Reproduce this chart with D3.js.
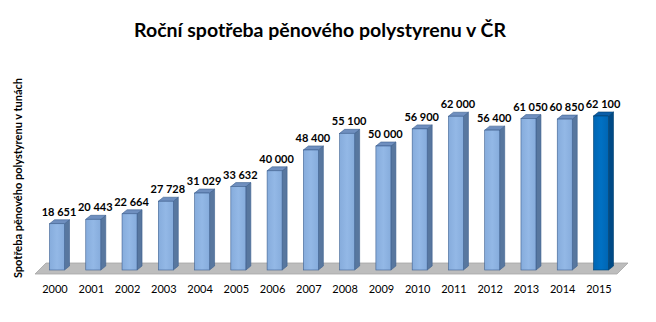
<!DOCTYPE html>
<html>
<head>
<meta charset="utf-8">
<script src="https://cdn.jsdelivr.net/npm/d3@7"></script>
<style>
  html, body { margin: 0; padding: 0; background: #fff; }
  svg { display: block; }
  text { font-family: Lato, "Liberation Sans", sans-serif; }
</style>
</head>
<body>
<svg id="chart" width="656" height="322"></svg>
<script>
// Yearly consumption of expanded polystyrene in the Czech Republic (tonnes)
const years = ["2000","2001","2002","2003","2004","2005","2006","2007","2008","2009","2010","2011","2012","2013","2014","2015"];
const values = [18651, 20443, 22664, 27728, 31029, 33632, 40000, 48400, 55100, 50000, 56900, 62000, 56400, 61050, 60850, 62100];
const valueLabels = ["18 651","20 443","22 664","27 728","31 029","33 632","40 000","48 400","55 100","50 000","56 900","62 000","56 400","61 050","60 850","62 100"];
const highlightYear = "2015";

const title = "Roční spotřeba pěnového polystyrenu v ČR";
const yTitle = "Spotřeba pěnového polystyrenu v tunách";

const svg = d3.select("#chart");

const x = d3.scalePoint().domain(years).range([57, 601]);
const y = d3.scaleLinear().domain([0, 70000]).range([270, 96.4]);

const barW = 15, dx = 5, dy = 4;

const defs = svg.append("defs");
function grad(id, c0, c1, c2) {
  const g = defs.append("linearGradient").attr("id", id).attr("x1", 0).attr("x2", 1).attr("y1", 0).attr("y2", 0);
  g.append("stop").attr("offset", "0%").attr("stop-color", c0);
  g.append("stop").attr("offset", "50%").attr("stop-color", c1);
  g.append("stop").attr("offset", "100%").attr("stop-color", c2);
}
grad("frontLight", "#86ACDC", "#93B8E6", "#86ACDC");
grad("frontDark", "#0065B3", "#0071C4", "#0065B3");

// Floor
const base = y(0);
const fx0 = x(years[0]) - 22, fx1 = x(years[years.length - 1]) + 16;
svg.append("path")
  .attr("d", `M${fx0},${base + 4} L${fx1},${base + 4} L${fx1 + 11},${base - 7} L${fx0 + 11},${base - 7} Z`)
  .attr("fill", "#BDBDBD")
  .attr("stroke", "#A6A6A6")
  .attr("stroke-width", 0.8);

// Bars
const bars = svg.append("g").selectAll("g").data(years).join("g");
bars.each(function(yr, i) {
  const g = d3.select(this);
  const hi = yr === highlightYear;
  const cx = x(yr), left = cx - barW / 2, right = cx + barW / 2;
  const top = y(values[i]);
  const stroke = hi ? "#00406F" : "#3D5F8F";
  // side
  g.append("path")
    .attr("d", `M${right},${top} L${right + dx},${top - dy} L${right + dx},${base - dy} L${right},${base} Z`)
    .attr("fill", hi ? "#004A86" : "#58779F")
    .attr("stroke", stroke).attr("stroke-width", 0.6);
  // top
  g.append("path")
    .attr("d", `M${left},${top} L${left + dx},${top - dy} L${right + dx},${top - dy} L${right},${top} Z`)
    .attr("fill", hi ? "#0A5EA8" : "#6F8FBF")
    .attr("stroke", stroke).attr("stroke-width", 0.6);
  // front
  g.append("rect")
    .attr("x", left).attr("y", top)
    .attr("width", barW).attr("height", base - top)
    .attr("fill", hi ? "url(#frontDark)" : "url(#frontLight)")
    .attr("stroke", stroke).attr("stroke-width", 0.6);
  // value label
  g.append("text")
    .attr("x", cx + 2).attr("y", top - 8)
    .attr("text-anchor", "middle")
    .attr("font-size", 11).attr("font-weight", "bold").attr("fill", "#000")
    .text(valueLabels[i]);
});

// Year labels
svg.append("g").selectAll("text").data(years).join("text")
  .attr("x", d => x(d) - 2).attr("y", 293)
  .attr("text-anchor", "middle")
  .attr("font-size", 11).attr("fill", "#000")
  .text(d => d);

// Title
svg.append("text")
  .attr("x", 320).attr("y", 37)
  .attr("text-anchor", "middle")
  .attr("font-size", 19.5).attr("font-weight", "bold").attr("fill", "#000")
  .text(title);

// Y axis title
svg.append("text")
  .attr("transform", "translate(22,178) rotate(-90)")
  .attr("text-anchor", "middle")
  .attr("font-size", 11).attr("font-weight", "bold").attr("fill", "#000")
  .text(yTitle);
</script>
</body>
</html>
